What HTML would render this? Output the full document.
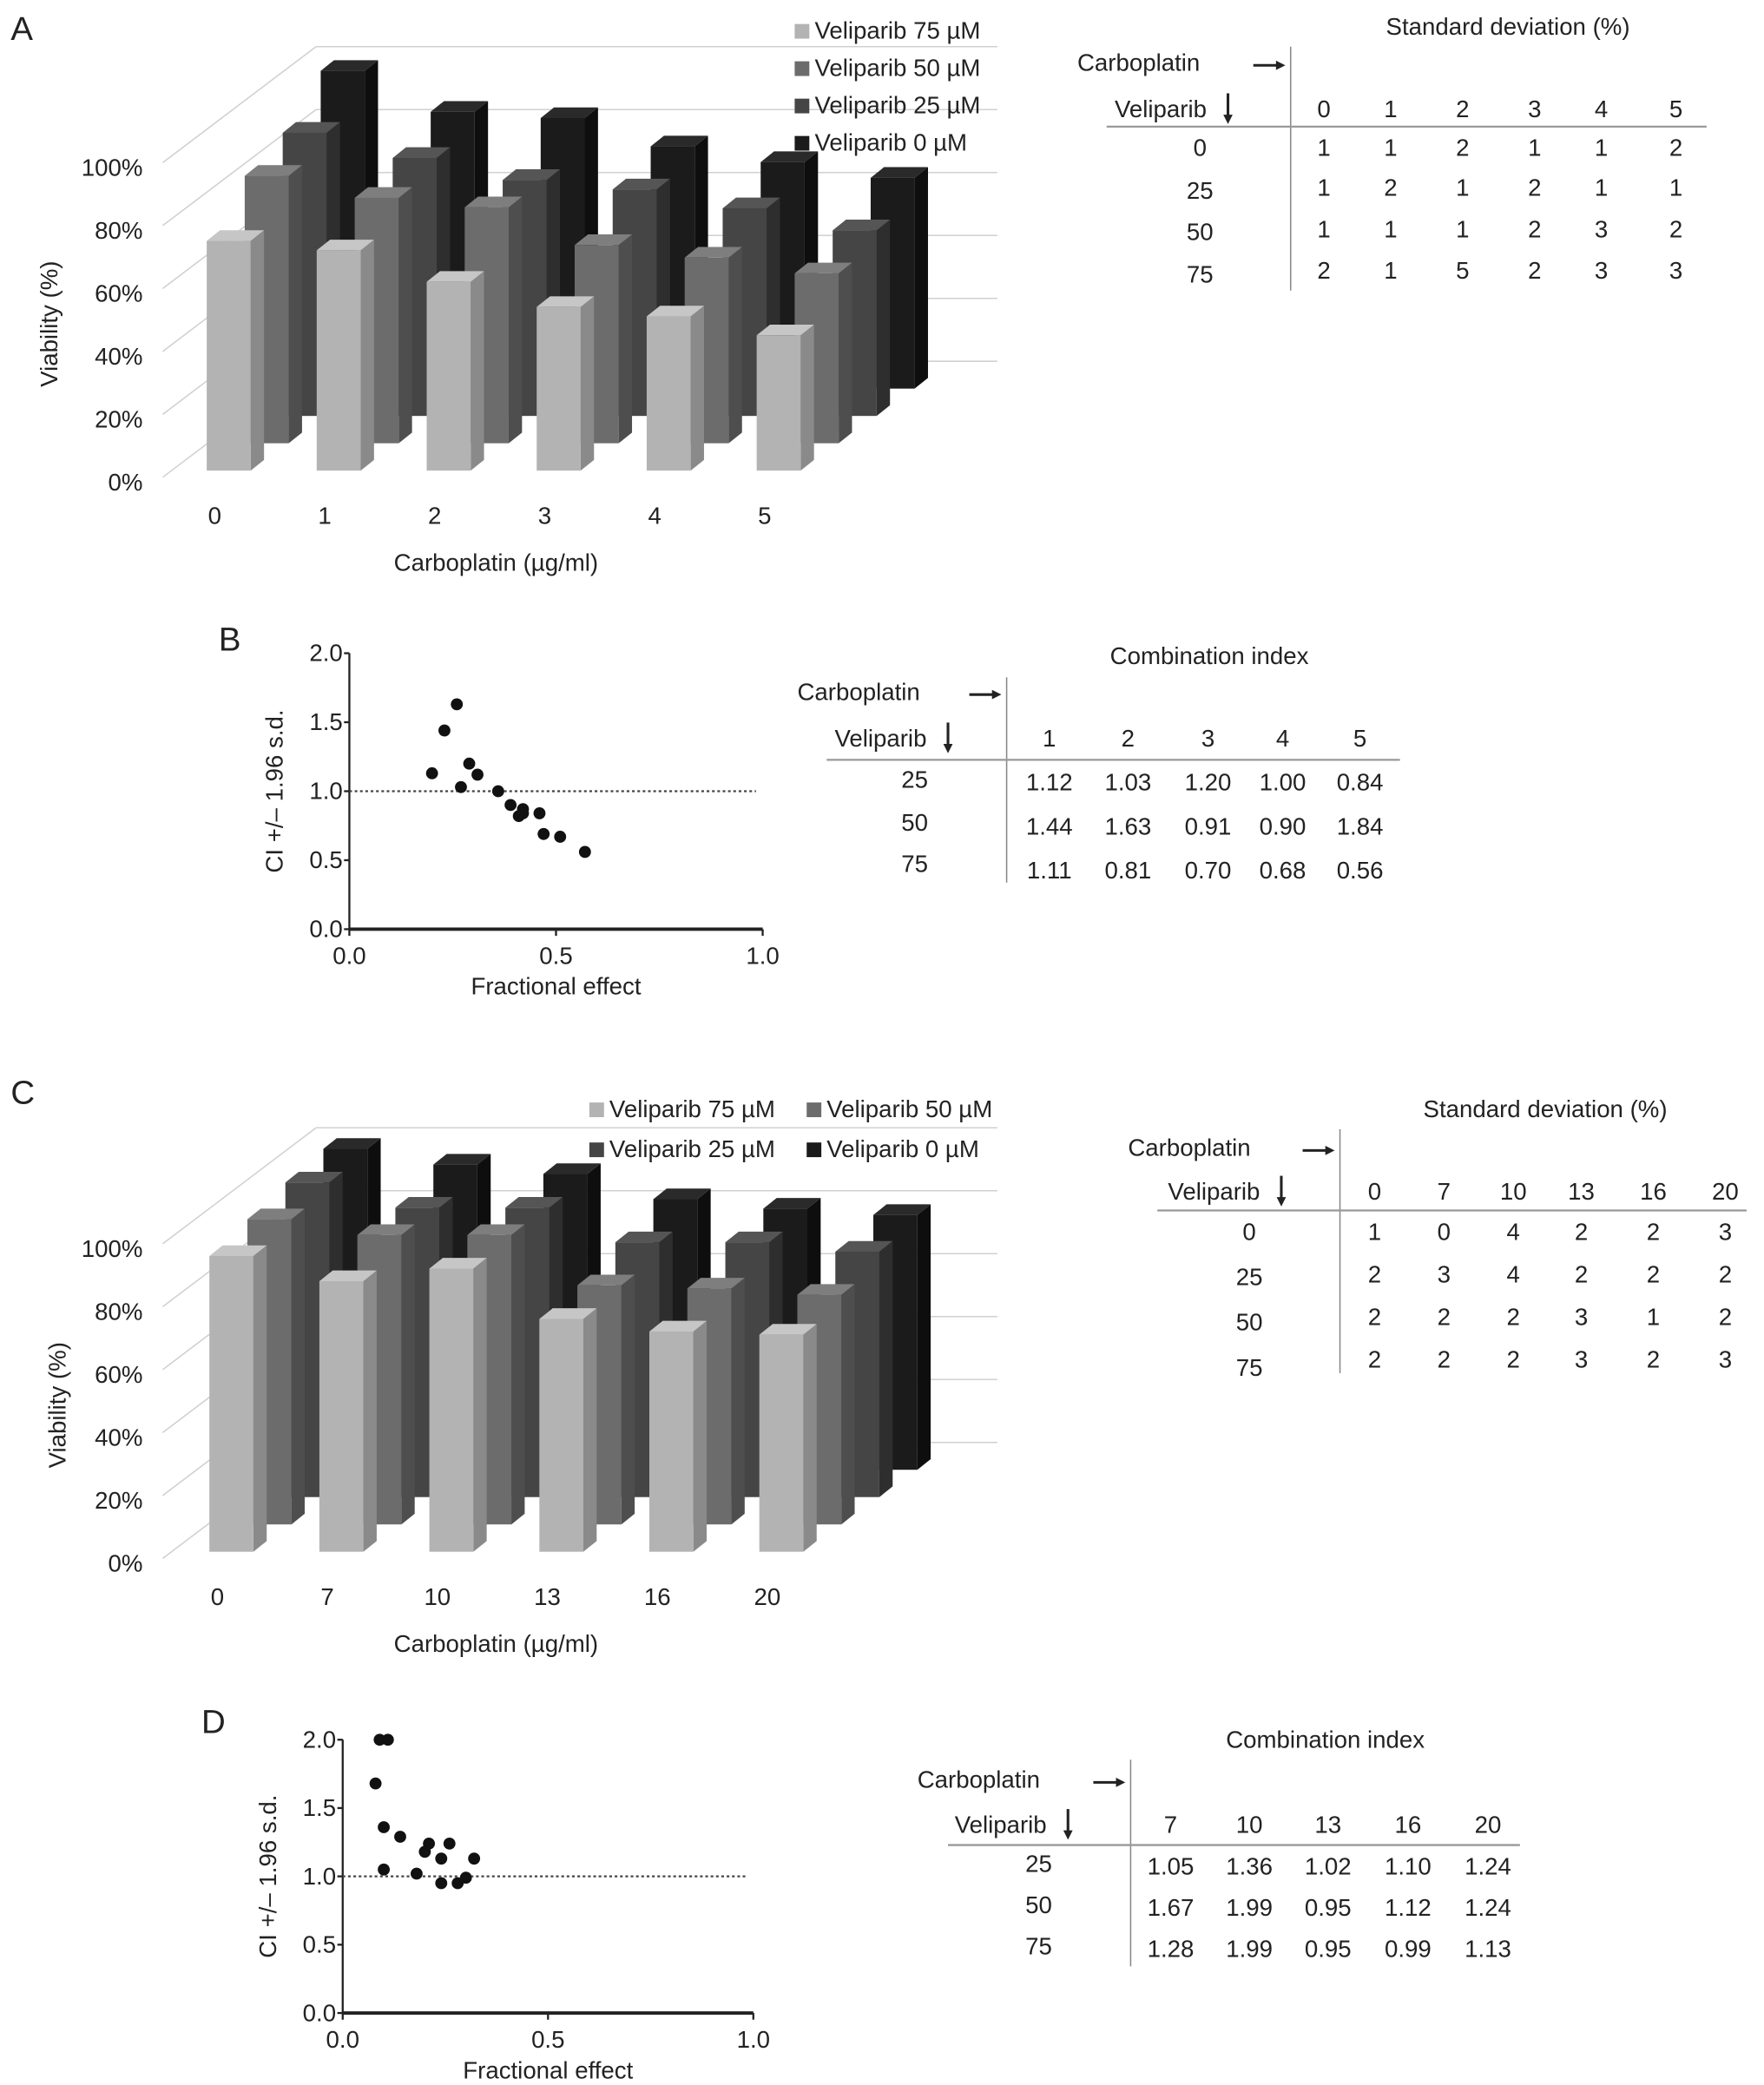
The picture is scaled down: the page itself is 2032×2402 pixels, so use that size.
<!DOCTYPE html>
<html><head><meta charset="utf-8">
<style>
html,body{margin:0;padding:0;background:#fff;}
svg{display:block;}
text{font-family:"Liberation Sans",sans-serif;fill:#222;}
</style></head>
<body>
<svg id="fig" width="2032" height="2402" viewBox="0 0 1323 1564" xmlns="http://www.w3.org/2000/svg"></svg>
<script>
// ---------- DATA ----------
const seriesNames = ["Veliparib 75 µM","Veliparib 50 µM","Veliparib 25 µM","Veliparib 0 µM"];
const catsA = ["0","1","2","3","4","5"];
const viabA75 = [73,70,60,52,49,43];
const viabA50 = [85,78,75,63,59,54];
const viabA25 = [90,82,75,72,66,59];
const viabA0  = [101,88,86,77,72,67];
const catsC = ["0","7","10","13","16","20"];
const viabC75 = [94,86,90,74,70,69];
const viabC50 = [97,92,92,76,75,73];
const viabC25 = [100,92,92,81,81,78];
const viabC0  = [102,97,94,86,83,81];
const yTicks3d = [0,20,40,60,80,100];

const sdColsA = ["0","1","2","3","4","5"];
const sdRowsA = ["0","25","50","75"];
const sdA0 = ["1","1","2","1","1","2"];
const sdA25 = ["1","2","1","2","1","1"];
const sdA50 = ["1","1","1","2","3","2"];
const sdA75 = ["2","1","5","2","3","3"];
const sdColsC = ["0","7","10","13","16","20"];
const sdC0 = ["1","0","4","2","2","3"];
const sdC25 = ["2","3","4","2","2","2"];
const sdC50 = ["2","2","2","3","1","2"];
const sdC75 = ["2","2","2","3","2","3"];

const ciColsB = ["1","2","3","4","5"];
const ciRows = ["25","50","75"];
const ciB25 = ["1.12","1.03","1.20","1.00","0.84"];
const ciB50 = ["1.44","1.63","0.91","0.90","1.84"];
const ciB75 = ["1.11","0.81","0.70","0.68","0.56"];
const ciColsD = ["7","10","13","16","20"];
const ciD25 = ["1.05","1.36","1.02","1.10","1.24"];
const ciD50 = ["1.67","1.99","0.95","1.12","1.24"];
const ciD75 = ["1.28","1.99","0.95","0.99","1.13"];

const faB = [0.20,0.23,0.26,0.27,0.29,0.31,0.36,0.39,0.41,0.42,0.42,0.46,0.47,0.51,0.57];
const ciB = [1.13,1.44,1.63,1.03,1.20,1.12,1.00,0.90,0.82,0.87,0.84,0.84,0.69,0.67,0.56];
const faD = [0.08,0.09,0.11,0.10,0.10,0.14,0.18,0.20,0.21,0.24,0.24,0.26,0.28,0.30,0.32];
const ciD = [1.68,2.00,2.00,1.36,1.05,1.29,1.02,1.18,1.24,1.13,0.95,1.24,0.95,0.99,1.13];
const sTicks = [0,0.5,1.0,1.5,2.0];
const sXTicks = [0,0.5,1.0];

// ---------- HELPERS ----------
const NS="http://www.w3.org/2000/svg";
const svg=document.getElementById('fig');
function mk(tag,attrs,parent){const e=document.createElementNS(NS,tag);for(const k in attrs)e.setAttribute(k,attrs[k]);(parent||svg).appendChild(e);return e;}
function txt(s,x,y,size,anchor,parent){const t=mk('text',{x:x,y:y,'font-size':size,'text-anchor':anchor||'start'},parent);t.textContent=s;return t;}
function grp(){return mk('g',{});}

const front=["#b3b3b3","#6c6c6c","#454545","#1b1b1b"];
const side=["#8a8a8a","#4e4e4e","#2e2e2e","#0e0e0e"];
const topc=["#c6c6c6","#7e7e7e","#555555","#2a2a2a"];

function chart3d(prefix,oy,cats,series,x0){
  const base=353+oy, k=2.36, sdx=28.5, sdy=-20.5, w=33, dd=10, dv=8;
  const g=grp();
  
  
  const bx=237, by=base-82+4;
  yTicks3d.forEach(v=>{
    const fy=base+5-k*v;
    const l1=mk('line',{x1:122,y1:fy,x2:bx,y2:fy-87,stroke:'#d0d0d0','stroke-width':1},g);
    
    
    const l2=mk('line',{x1:bx,y1:fy-87,x2:748,y2:fy-87,stroke:'#d0d0d0','stroke-width':1},g);
    
    
    const t=txt(v+'%',107,fy+10,18,'end',g);
    
    
  });
  for(let s=3;s>=0;s--){
    series[s].forEach((v,i)=>{
      const x=x0+i*82.5+s*sdx, b=base+s*sdy, h=v*k;
      const bg=mk('g',{},g);
      
      
      mk('polygon',{points:`${x+w},${b} ${x+w+dd},${b-dv} ${x+w+dd},${b-h-dv} ${x+w},${b-h}`,fill:side[s]},bg);
      mk('polygon',{points:`${x},${b-h} ${x+dd},${b-h-dv} ${x+w+dd},${b-h-dv} ${x+w},${b-h}`,fill:topc[s]},bg);
      mk('rect',{x:x,y:b-h,width:w,height:h,fill:front[s]},bg);
    });
  }
  cats.forEach((c,i)=>{
    const t=txt(c,x0+6+i*82.5,base+40,18,'middle',g);
    
    
  });
  const xt=txt('Carboplatin (µg/ml)',372,base+75,18,'middle',g);
  
  
  const yt=txt('Viability (%)',0,0,18,'middle',g);
  yt.setAttribute('transform',`translate(${prefix==='A'?43:49},${base-110}) rotate(-90)`);
  
  
}

function legendSquare(x,y,s,label,g){
  const e=mk('g',{},g);
  
  
  mk('rect',{x:x,y:y-10,width:11,height:11,fill:front[s]},e);
  txt(label,x+15,y+1,18,'start',e);
}

function rightArrow(x,y,g){mk('line',{x1:x,y1:y,x2:x+18,y2:y,stroke:'#222','stroke-width':2},g);mk('polygon',{points:`${x+17},${y-3.5} ${x+24},${y} ${x+17},${y+3.5}`,fill:'#222'},g);}
function downArrow(x,y,g){mk('line',{x1:x,y1:y-16,x2:x,y2:y+2,stroke:'#222','stroke-width':2},g);mk('polygon',{points:`${x-3.5},${y} ${x},${y+7} ${x+3.5},${y}`,fill:'#222'},g);}

function table(name,title,titleX,titleY,carbX,carbY,vx,vlineTop,vlineBot,velX,velY,hlineY,hx1,hx2,colX,cols,rowX,rowY,rowLabels,valY,rows){
  const g=grp();
  
  
  txt(title,titleX,titleY,18,'middle',g);
  txt('Carboplatin',carbX,carbY,18,'start',g);
  rightArrow(vx-28,carbY-4,g);
  mk('line',{x1:vx,y1:vlineTop,x2:vx,y2:vlineBot,stroke:'#888','stroke-width':1},g);
  const vt=txt('Veliparib',velX,velY,18,'start',g);
  downArrow(velX+85,velY-2,g);
  mk('line',{x1:hx1,y1:hlineY,x2:hx2,y2:hlineY,stroke:'#999','stroke-width':1.5},g);
  cols.forEach((c,i)=>txt(c,colX[i],velY,18,'middle',g));
  rowLabels.forEach((r,j)=>txt(r,rowX,rowY[j],18,'middle',g));
  rows.forEach((row,j)=>row.forEach((v,i)=>{
    const t=txt(v,colX[i],valY[j],18,'middle',g);
    
    
  }));
}

function scatter(name,ax,ay0,ay1,axRight,fa,ci){
  const g=grp();
  
  
  const X=v=>ax+v*(axRight-ax), Y=v=>ay0-(ay0-ay1)*v/2;
  mk('line',{x1:ax,y1:ay1,x2:ax,y2:ay0,stroke:'#222','stroke-width':1.5},g);
  mk('line',{x1:ax,y1:ay0,x2:axRight,y2:ay0,stroke:'#222','stroke-width':2.5},g);
  sTicks.forEach(v=>{
    mk('line',{x1:ax-4,y1:Y(v),x2:ax,y2:Y(v),stroke:'#222','stroke-width':1.5},g);
    const t=txt(v.toFixed(1),ax-5,Y(v)+6,18,'end',g);
    
    
  });
  sXTicks.forEach(v=>{
    mk('line',{x1:X(v),y1:ay0,x2:X(v),y2:ay0+5,stroke:'#222','stroke-width':1.5},g);
    const t=txt(v.toFixed(1),X(v),ay0+26,18,'middle',g);
    
    
  });
  const ref=mk('line',{x1:ax,y1:Y(1),x2:axRight-5,y2:Y(1),stroke:'#444','stroke-width':1.5,'stroke-dasharray':'2,2'},g);
  
  
  fa.forEach((f,i)=>{
    const c=mk('circle',{cx:X(f),cy:Y(ci[i]),r:4.5,fill:'#111'},g);
    
    
  });
  const xt=txt('Fractional effect',(ax+axRight)/2,ay0+49,18,'middle',g);
  
  
  const yt=txt('CI +/– 1.96 s.d.',0,0,18,'middle',g);
  yt.setAttribute('transform',`translate(${ax-50},${(ay0+ay1)/2}) rotate(-90)`);
  
  
}

// ---------- PANEL LETTERS ----------
[["A",8,30],["B",164,488],["C",8,828],["D",151,1300]].forEach(p=>{
  const t=txt(p[0],p[1],p[2],25,'start');
  
  
});

// ---------- PANEL A ----------
chart3d('A',0,catsA,[viabA75,viabA50,viabA25,viabA0],155);
const legA=grp();


seriesNames.forEach((n,s)=>legendSquare(596,28+s*28,s,n,legA));
table('sd-table-a','Standard deviation (%)',1131,26,808,53,968,35,218,836,88,95,830,1280,
  [993,1043,1097,1151,1201,1257],sdColsA,900,[117,149,180,212],sdRowsA,[117,147,178,209],[sdA0,sdA25,sdA50,sdA75]);

// ---------- PANEL B ----------
scatter('ci-scatter-b',262,697,490,572,faB,ciB);
table('ci-table-b','Combination index',907,498,598,525,755,508,662,626,560,570,620,1050,
  [787,846,906,962,1020],ciColsB,686,[591,623,654],ciRows,[593,626,659],[ciB25,ciB50,ciB75]);

// ---------- PANEL C ----------
chart3d('C',811,catsC,[viabC75,viabC50,viabC25,viabC0],157);
const legC=grp();


legendSquare(442,837,0,seriesNames[0],legC);
legendSquare(605,837,1,seriesNames[1],legC);
legendSquare(442,867,2,seriesNames[2],legC);
legendSquare(605,867,3,seriesNames[3],legC);
table('sd-table-c','Standard deviation (%)',1159,838,846,867,1005,847,1030,876,900,908,868,1310,
  [1031,1083,1135,1186,1240,1294],sdColsC,937,[930,964,998,1032],sdRowsA,[930,962,994,1026],[sdC0,sdC25,sdC50,sdC75]);

// ---------- PANEL D ----------
scatter('ci-scatter-d',257,1510,1305,565,faD,ciD);
table('ci-table-d','Combination index',994,1311,688,1341,848,1320,1475,716,1375,1384,711,1140,
  [878,937,996,1056,1116],ciColsD,779,[1404,1435,1466],ciRows,[1406,1437,1468],[ciD25,ciD50,ciD75]);
</script>
</body></html>
